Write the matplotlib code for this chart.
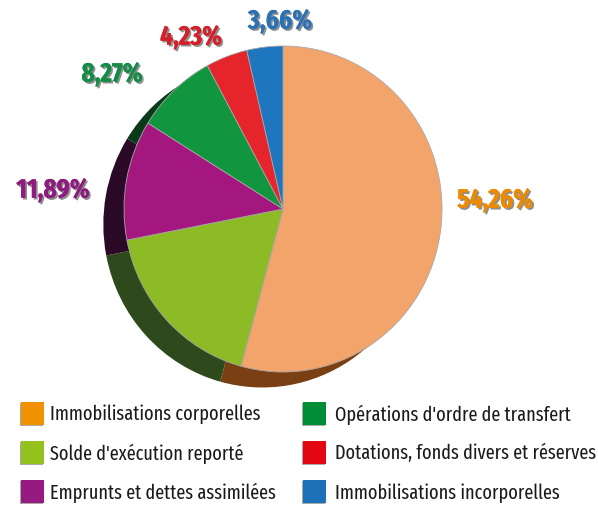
import matplotlib
matplotlib.use("Agg")
import matplotlib.pyplot as plt
from matplotlib.patches import Rectangle
import matplotlib.patheffects as pe

# data
categories = ["Immobilisations corporelles", "Solde d'exécution reporté",
              "Emprunts et dettes assimilées", "Opérations d'ordre de transfert",
              "Dotations, fonds divers et réserves", "Immobilisations incorporelles"]
values = [54.26, 17.69, 11.89, 8.27, 4.23, 3.66]
pct_labels = ["54,26%", None, "11,89%", "8,27%", "4,23%", "3,66%"]

pie_colors = ["#F3A46B", "#8DBB25", "#A3177F", "#12953F", "#E5252B", "#1E76BE"]
shadow_colors = ["#7A3F12", "#2E4A1C", "#2A0A26", "#0A3A18", "#5A1010", "#0E3560"]
legend_colors = ["#F39200", "#95C11F", "#951B81", "#008D36", "#E30613", "#1D71B8"]
label_colors = ["#EE8A00", None, "#8E1B7E", "#148C45", "#D5202B", "#2A72B5"]

fonts = ["Fira Sans Extra Condensed", "Fira Sans Condensed", "Roboto Condensed", "DejaVu Sans"]

W, H = 598, 509
fig = plt.figure(figsize=(W / 100, H / 100), dpi=100)
ax = fig.add_axes([0, 0, 1, 1])

# pie centre and radii in pixels
cx, cy, rx, ry = 283, 209, 159, 163

# extruded side (dark copy shifted down-left)
ax.pie(values, colors=shadow_colors, startangle=90, counterclock=False,
       center=(-0.13, -0.095), radius=1.0, frame=True,
       wedgeprops=dict(linewidth=0))
ax.pie(values, colors=pie_colors, startangle=90, counterclock=False,
       center=(0, 0), radius=1.0, frame=True,
       wedgeprops=dict(linewidth=0.6, edgecolor="#a8a8a8"))
ax.set_aspect("auto")
ax.set_xlim(-cx / rx, (W - cx) / rx)
ax.set_ylim((cy - H) / ry, cy / ry)
ax.axis("off")

renderer = fig.canvas.get_renderer()


def fit_size(txt, target_w, **kw):
    t = fig.text(0, 0, txt, fontsize=20, family=fonts, **kw)
    w = t.get_window_extent(renderer).width
    t.remove()
    return 20 * target_w / w


# percentage labels (pixel centres)
label_pos = [(495, 200), None, (53, 190), (112, 74), (191, 37), (280, 21)]
lab_size = fit_size("54,26%", 76, fontweight="bold")
for lab, col, pos in zip(pct_labels, label_colors, label_pos):
    if lab is None:
        continue
    fig.text(pos[0] / W, 1 - pos[1] / H, lab, color=col, fontsize=lab_size,
             fontweight="bold", family=fonts, ha="center", va="center",
             path_effects=[pe.withSimplePatchShadow(offset=(1.3, -1.3),
                                                    shadow_rgbFace="#333333", alpha=0.55),
                           pe.Normal()])

# legend
rows = [413.5, 452.5, 492]
cols = [(21, 50), (303, 335)]
leg_size = fit_size(categories[0], 210)
for i, (name, col) in enumerate(zip(categories, legend_colors)):
    c = cols[i // 3]
    r = rows[i % 3]
    fig.add_artist(Rectangle(((c[0] - 1) / W, 1 - (r + 12) / H), 23 / W, 23 / H,
                             transform=fig.transFigure, facecolor="#555555",
                             edgecolor="none", alpha=0.5))
    fig.add_artist(Rectangle((c[0] / W, 1 - (r + 11) / H), 23 / W, 23 / H,
                             transform=fig.transFigure, facecolor=col,
                             edgecolor="none"))
    fig.text(c[1] / W, 1 - (r + 1) / H, name, fontsize=leg_size, color="#1a1a1a",
             family=fonts, ha="left", va="center")

fig.savefig("out.png", dpi=100, facecolor="white")
